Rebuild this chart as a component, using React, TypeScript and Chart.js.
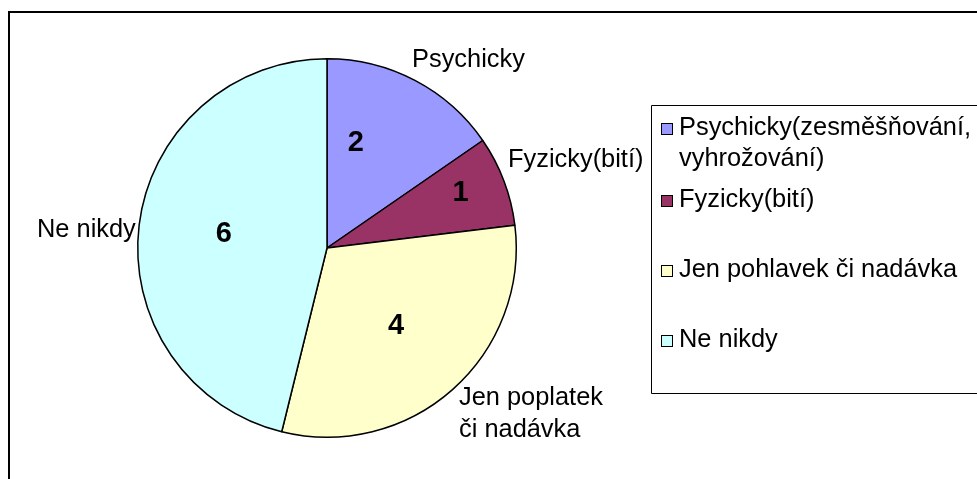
import React, { useEffect, useRef } from "react";
import { Chart, registerables } from "chart.js";

Chart.register(...registerables);

// ---- data ----
const categories = [
  "Psychicky(zesměšňování, vyhrožování)",
  "Fyzicky(bití)",
  "Jen pohlavek či nadávka",
  "Ne nikdy",
];
const legendLines = [
  ["Psychicky(zesměšňování,", "vyhrožování)"],
  ["Fyzicky(bití)"],
  ["Jen pohlavek či nadávka"],
  ["Ne nikdy"],
];
const values = [2, 1, 4, 6];
const sliceLabels = ["Psychicky", "Fyzicky(bití)", "Jen poplatek\nči nadávka", "Ne nikdy"];
const colors = ["#9999FF", "#993366", "#FFFFCC", "#CCFFFF"];

// ---- layout (styles / positions) ----
const FONT = '"Liberation Sans", Arial, sans-serif';
const TEXT_SIZE = 25.4;
const VALUE_SIZE = 29;
// value label placement: [radius fraction, angle offset in degrees]
const valuePlacement = [
  [0.574, -12.3],
  [0.763, -1.5],
  [0.55, 0],
  [0.55, 0.8],
];
// outer label anchor (left x, baseline) relative to pie centre
const outerPlacement = [
  [85, -181],
  [181, -81],
  [132, 157],
  [-290, -11],
];
const OUTER_LINE = 32;
const LEGEND_BOX = { x: 651.5, y: 105.5, bottom: 393.5 };
const LEGEND_SWATCH_X = 661;
const LEGEND_TEXT_X = 679;
const legendBaselines = [[135, 166], [207], [277], [347]];

const decorPlugin = {
  id: "decor",
  beforeDraw(chart: any) {
    const ctx = chart.ctx;
    ctx.save();
    ctx.fillStyle = "#ffffff";
    ctx.fillRect(0, 0, chart.width, chart.height);
    ctx.restore();
  },
  afterDatasetsDraw(chart: any) {
    const ctx = chart.ctx;
    const meta = chart.getDatasetMeta(0);
    ctx.save();
    ctx.fillStyle = "#000";
    // value labels
    ctx.font = `bold ${VALUE_SIZE}px ${FONT}`;
    ctx.textAlign = "center";
    ctx.textBaseline = "middle";
    meta.data.forEach((arc: any, i: number) => {
      const p = arc.getProps(["x", "y", "startAngle", "endAngle", "outerRadius"], true);
      const [frac, off] = valuePlacement[i];
      const a = (p.startAngle + p.endAngle) / 2 + (off * Math.PI) / 180;
      const r = p.outerRadius * frac;
      ctx.fillText(String(values[i]), p.x + Math.cos(a) * r, p.y + Math.sin(a) * r);
    });
    // outer category labels
    ctx.font = `${TEXT_SIZE}px ${FONT}`;
    ctx.textAlign = "left";
    ctx.textBaseline = "alphabetic";
    const c = meta.data[0].getProps(["x", "y"], true);
    sliceLabels.forEach((lbl, i) => {
      const [dx, dy] = outerPlacement[i];
      lbl.split("\n").forEach((line, j) => {
        ctx.fillText(line, c.x + dx, c.y + dy + j * OUTER_LINE);
      });
    });
    ctx.restore();
  },
  afterDraw(chart: any) {
    const ctx = chart.ctx;
    ctx.save();
    // outer frame
    ctx.strokeStyle = "#000";
    ctx.lineWidth = 2;
    ctx.strokeRect(9, 12, chart.width + 50, chart.height + 50);
    // legend box
    ctx.lineWidth = 1;
    ctx.strokeStyle = "#000";
    ctx.fillStyle = "#fff";
    ctx.beginPath();
    ctx.rect(LEGEND_BOX.x, LEGEND_BOX.y, chart.width + 50, LEGEND_BOX.bottom - LEGEND_BOX.y);
    ctx.fill();
    ctx.stroke();
    // legend items
    const bg = chart.data.datasets[0].backgroundColor;
    ctx.font = `${TEXT_SIZE}px ${FONT}`;
    ctx.textAlign = "left";
    ctx.textBaseline = "alphabetic";
    legendLines.forEach((lines, i) => {
      const bases = legendBaselines[i];
      ctx.fillStyle = bg[i];
      ctx.fillRect(LEGEND_SWATCH_X, bases[0] - 12, 12, 12);
      ctx.strokeStyle = "#000";
      ctx.lineWidth = 1;
      ctx.strokeRect(LEGEND_SWATCH_X + 0.5, bases[0] - 11.5, 11, 11);
      ctx.fillStyle = "#000";
      lines.forEach((line, j) => ctx.fillText(line, LEGEND_TEXT_X, bases[j]));
    });
    ctx.restore();
  },
};

export default function App() {
  const ref = useRef<HTMLCanvasElement>(null);
  useEffect(() => {
    if (!ref.current) return;
    const chart = new Chart(ref.current, {
      type: "pie",
      data: {
        labels: categories,
        datasets: [
          {
            data: values,
            backgroundColor: colors,
            borderColor: "#000",
            borderWidth: 1.5,
          },
        ],
      },
      options: {
        responsive: false,
        animation: false,
        layout: { padding: { left: 137, right: 460, top: 58, bottom: 41 } },
        plugins: { legend: { display: false }, tooltip: { enabled: false } },
      },
      plugins: [decorPlugin],
    } as any);
    return () => chart.destroy();
  }, []);
  return (
    <div style={{ position: "fixed", left: 0, top: 0, width: 977, height: 479, background: "#fff" }}>
      <canvas ref={ref} width={977} height={479} style={{ display: "block" }} />
    </div>
  );
}
